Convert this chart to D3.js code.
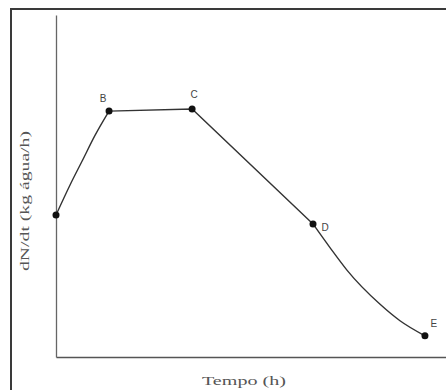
<!DOCTYPE html>
<html><head><meta charset="utf-8">
<script src="https://cdn.jsdelivr.net/npm/d3@7"></script>
<style>body{margin:0;background:#fff}svg{display:block}</style>
</head><body>
<script>
// Key points (time in arbitrary units, rate in arbitrary units)
const pointLabels = ["", "B", "C", "D", "E"];
const pointTimes  = [0.0, 1.36, 3.49, 6.59, 9.46];
const pointRates  = [4.15, 7.19, 7.25, 3.89, 0.62];
// Readings along the rising curve A -> B
const riseTimes = [0.0, 0.36, 0.67, 1.0, 1.36];
const riseRates = [4.15, 5.03, 5.73, 6.48, 7.19];
// Readings along the falling curve D -> E
const fallTimes = [6.59, 7.03, 7.46, 8.31, 8.82, 9.46];
const fallRates = [3.89, 3.19, 2.54, 1.54, 1.06, 0.62];

const W = 446, H = 390;
const svg = d3.select("body").append("svg").attr("width", W).attr("height", H);

// outer frame
svg.append("rect").attr("x", 11).attr("y", 9).attr("width", W + 20).attr("height", H + 20)
  .attr("fill", "none").attr("stroke", "#3a3a3a").attr("stroke-width", 2);

const x = d3.scaleLinear().domain([0, 10]).range([56, 446]);
const y = d3.scaleLinear().domain([0, 10]).range([357, 15]);

// axes (no ticks)
svg.append("g").attr("transform", `translate(0,${y(0)})`)
  .call(d3.axisBottom(x).tickValues([]).tickSizeOuter(0))
  .call(g => g.select(".domain").attr("stroke", "#555").attr("stroke-width", 1.6));
svg.append("g").attr("transform", `translate(${x(0)},0)`)
  .call(d3.axisLeft(y).tickValues([]).tickSizeOuter(0))
  .call(g => g.select(".domain").attr("stroke", "#666").attr("stroke-width", 1.3));

const lineMono = d3.line().x(d => x(d[0])).y(d => y(d[1])).curve(d3.curveMonotoneX);
const lineLin = d3.line().x(d => x(d[0])).y(d => y(d[1]));

const rise = riseTimes.map((t, i) => [t, riseRates[i]]);
const fall = fallTimes.map((t, i) => [t, fallRates[i]]);
const pts = pointTimes.map((t, i) => [t, pointRates[i]]);

function styled(p) { return p.attr("fill", "none").attr("stroke", "#333").attr("stroke-width", 1.4); }

styled(svg.append("path").attr("d", lineMono(rise)));
styled(svg.append("path").attr("d", lineLin(pts.slice(1, 4))));
styled(svg.append("path").attr("d", lineMono(fall)));

svg.selectAll("circle.pt").data(pts).join("circle")
  .attr("class", "pt").attr("cx", d => x(d[0])).attr("cy", d => y(d[1]))
  .attr("r", 3.5).attr("fill", "#111");

const labelOffsets = [[0, 0], [-6, -12], [2, -14], [12, 4], [9, -11]];
svg.selectAll("text.lbl").data(pts).join("text")
  .attr("class", "lbl")
  .attr("x", (d, i) => x(d[0]) + labelOffsets[i][0])
  .attr("y", (d, i) => y(d[1]) + labelOffsets[i][1])
  .attr("text-anchor", "middle").attr("dominant-baseline", "middle")
  .attr("font-family", "Liberation Sans, Arial, sans-serif").attr("font-size", 10)
  .attr("fill", "#444")
  .text((d, i) => pointLabels[i]);

svg.append("text").attr("x", 244).attr("y", 385)
  .attr("text-anchor", "middle")
  .attr("font-family", "Liberation Serif, Times New Roman, serif").attr("font-size", 13)
  .attr("fill", "#555")
  .attr("textLength", 84).attr("lengthAdjust", "spacingAndGlyphs")
  .text("Tempo (h)");

svg.append("text")
  .attr("transform", "translate(29,201) rotate(-90)")
  .attr("text-anchor", "middle")
  .attr("font-family", "Liberation Serif, Times New Roman, serif").attr("font-size", 13)
  .attr("fill", "#555")
  .attr("textLength", 140).attr("lengthAdjust", "spacingAndGlyphs")
  .text("dN/dt (kg água/h)");
</script>
</body></html>
